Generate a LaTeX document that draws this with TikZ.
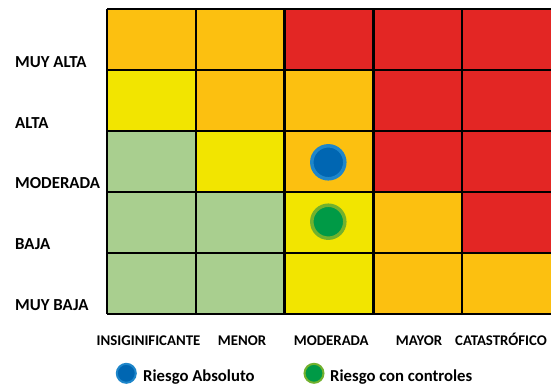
\documentclass[tikz,border=0pt]{standalone}
\usepackage{fontspec}
\setmainfont{Carlito}
\definecolor{cOr}{HTML}{FCC010}
\definecolor{cYe}{HTML}{F2E500}
\definecolor{cGr}{HTML}{A9CF8F}
\definecolor{cRe}{HTML}{E32624}
\definecolor{bOut}{HTML}{1E86CA}
\definecolor{bIn}{HTML}{0066B2}
\definecolor{gOut}{HTML}{72B12E}
\definecolor{gIn}{HTML}{009A46}
\begin{document}
\begin{tikzpicture}[x=1pt,y=-1pt,
  cell/.style={minimum width=88.8pt,minimum height=61pt,inner sep=0pt,outer sep=0pt,anchor=north west},
  gridline/.style={draw=black,line width=2.4pt},
  rowlab/.style={font=\fontsize{16.8}{19}\selectfont\bfseries,inner sep=0pt,anchor=base west},
  collab/.style={font=\fontsize{14.8}{17}\selectfont\bfseries,inner sep=0pt,anchor=base},
  leglab/.style={font=\fontsize{16.7}{19}\selectfont\bfseries,inner sep=0pt,anchor=base west},
  bdot/.style={circle,fill=bIn,draw=bOut,line width=3.5pt,minimum size=#1,inner sep=0pt},
  gdot/.style={circle,fill=gIn,draw=gOut,line width=3.5pt,minimum size=#1,inner sep=0pt}]
\useasboundingbox (0,0) rectangle (551,386);
\clip (0,0) rectangle (551,386);
\fill[white] (0,0) rectangle (551,386);
% grid
\foreach \r/\cols in {1/{cOr,cOr,cRe,cRe,cRe},2/{cYe,cOr,cOr,cRe,cRe},3/{cGr,cYe,cOr,cRe,cRe},4/{cGr,cGr,cYe,cOr,cRe},5/{cGr,cGr,cYe,cOr,cOr}}{
  \foreach \c [count=\k] in \cols {
    \node[cell,fill=\c] (c\r\k) at ({107+(\k-1)*88.8},{9+(\r-1)*61}) {};
  }
}
\foreach \r in {1,...,5}{
  \draw[gridline] (c\r1.north west) -- (c\r5.north east);
}
\draw[gridline] (c51.south west) -- (c55.south east);
\foreach \k in {1,...,5}{
  \draw[gridline] (c1\k.north west) -- (c5\k.south west);
}
% row labels
\node[rowlab] (r1) at (15,67.5) {MUY ALTA};
\node[rowlab] (r2) at (15,128) {ALTA};
\node[rowlab] (r3) at (15,188.5) {MODERADA};
\node[rowlab] (r4) at (15,249) {BAJA};
\node[rowlab] (r5) at (15,310) {MUY BAJA};
% column labels
\node[collab] (k1) at (148.5,345) {INSIGINIFICANTE};
\node[collab] (k2) at (242,345) {MENOR};
\node[collab] (k3) at (331.3,345) {MODERADA};
\node[collab] (k4) at (419,345) {MAYOR};
\node[collab,anchor=base west] (k5) at (455,345) {CATASTRÓFICO};
% risk dots
\node[bdot=33pt] (abs) at (328.3,162.3) {};
\node[gdot=33pt] (ctl) at (328.3,221.7) {};
% legend
\node[bdot=19pt,line width=2pt] (lb) at (126.3,373.3) {};
\node[leglab] (lbt) at (143,381) {Riesgo Absoluto};
\node[gdot=19pt,line width=2pt] (lg) at (314,373.3) {};
\node[leglab] (lgt) at (330,381) {Riesgo con controles};
\end{tikzpicture}
\end{document}
